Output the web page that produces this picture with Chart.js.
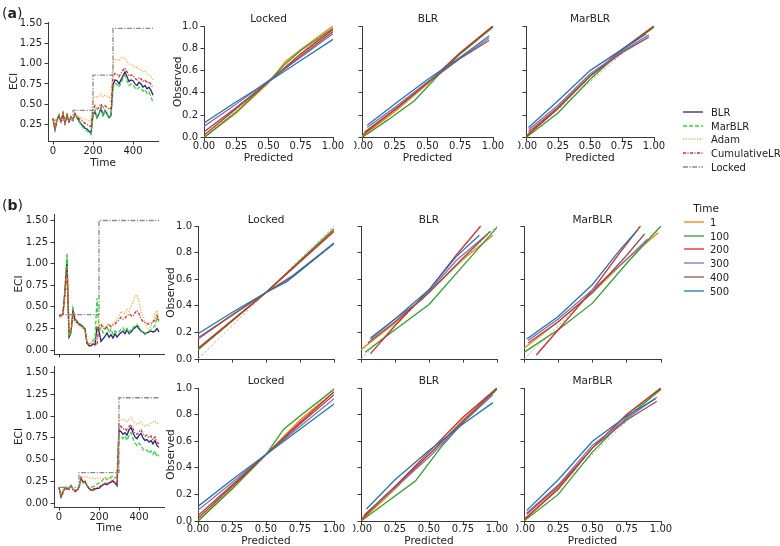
<!DOCTYPE html>
<html><head><meta charset="utf-8">
<script src="https://cdn.jsdelivr.net/npm/chart.js@4.4.1/dist/chart.umd.min.js"></script>
<style>
body{margin:0;background:#fff;width:780px;height:546px;position:relative;overflow:hidden;font-family:"DejaVu Sans",sans-serif;color:#222}
canvas{position:absolute}
.t{position:absolute;font-size:10.5px;white-space:nowrap;transform:translate(-50%,-50%)}
.lg{position:absolute;font-size:10px;white-space:nowrap;transform:translateY(-50%)}
.pl{position:absolute;font-size:14px;white-space:nowrap;transform:translateY(-50%)}
</style></head><body>
<script>
// ---------------- DATA ----------------
const timeGrid = [0,10,20,30,40,50,60,70,80,90,100,110,120,130,140,150,160,170,180,190,200,210,220,230,240,250,260,270,280,290,300,310,320,330,340,350,360,370,380,390,400,410,420,430,440,450,460,470,480,490,500];
const methods = ['BLR','MarBLR','Adam','CumulativeLR','Locked'];
const calTimes = ['1','100','200','300','400','500'];

// Panel (a) ECI
const eciA_BLR    = [0.32,0.18,0.30,0.36,0.28,0.38,0.26,0.36,0.28,0.34, 0.30,0.38,0.33,0.29,0.25,0.23,0.20,0.19,0.16,0.14, 0.36,0.41,0.33,0.38,0.45,0.36,0.42,0.38,0.33,0.36, 0.74,0.80,0.79,0.75,0.80,0.85,0.90,0.84,0.78,0.80, 0.79,0.75,0.73,0.77,0.75,0.71,0.73,0.69,0.71,0.67,0.61];
const eciA_MarBLR = [0.32,0.18,0.31,0.37,0.28,0.39,0.26,0.37,0.28,0.35, 0.30,0.38,0.32,0.28,0.24,0.21,0.18,0.17,0.14,0.12, 0.36,0.42,0.33,0.37,0.45,0.35,0.41,0.37,0.32,0.35, 0.70,0.76,0.74,0.71,0.76,0.82,0.86,0.79,0.73,0.75, 0.74,0.70,0.68,0.71,0.69,0.66,0.68,0.63,0.65,0.59,0.52];
const eciA_Adam   = [0.32,0.20,0.30,0.35,0.29,0.37,0.27,0.35,0.29,0.33, 0.31,0.37,0.35,0.34,0.33,0.32,0.31,0.30,0.29,0.28, 0.58,0.60,0.58,0.60,0.62,0.59,0.61,0.60,0.58,0.60, 1.02,1.05,1.06,1.04,1.07,1.08,1.07,1.03,1.00,0.99, 0.98,0.95,0.96,0.93,0.92,0.90,0.91,0.87,0.86,0.84,0.80];
const eciA_CumLR  = [0.32,0.19,0.30,0.36,0.28,0.38,0.27,0.36,0.28,0.34, 0.30,0.38,0.35,0.32,0.30,0.28,0.26,0.25,0.23,0.22, 0.44,0.48,0.43,0.46,0.50,0.45,0.48,0.46,0.43,0.45, 0.85,0.88,0.87,0.84,0.88,0.92,0.95,0.90,0.85,0.86, 0.86,0.82,0.80,0.83,0.81,0.78,0.80,0.76,0.78,0.74,0.70];
const eciA_LockedT = [0,100,100,200,200,300,300,500];
const eciA_Locked  = [0.30,0.30,0.42,0.42,0.86,0.86,1.44,1.44];

// Panel (b) top ECI
const eciB1_BLR    = [0.40,0.40,0.42,0.70,1.05,0.15,0.20,0.46,0.36,0.33, 0.30,0.29,0.27,0.24,0.08,0.05,0.05,0.07,0.06,0.26, 0.22,0.10,0.13,0.16,0.20,0.15,0.18,0.14,0.19,0.15, 0.18,0.20,0.22,0.19,0.24,0.19,0.21,0.24,0.26,0.28, 0.25,0.22,0.21,0.19,0.20,0.21,0.22,0.21,0.22,0.25,0.21];
const eciB1_MarBLR = [0.40,0.40,0.42,0.72,1.12,0.16,0.22,0.48,0.36,0.34, 0.31,0.30,0.28,0.25,0.08,0.07,0.09,0.11,0.14,0.60, 0.22,0.26,0.20,0.24,0.28,0.20,0.24,0.18,0.22,0.20, 0.21,0.24,0.26,0.22,0.25,0.20,0.24,0.26,0.28,0.30, 0.27,0.23,0.20,0.18,0.20,0.22,0.24,0.26,0.28,0.38,0.33];
const eciB1_Adam   = [0.38,0.37,0.40,0.60,0.85,0.22,0.20,0.38,0.33,0.30, 0.29,0.27,0.25,0.22,0.10,0.08,0.08,0.09,0.12,0.15, 0.35,0.30,0.28,0.25,0.28,0.30,0.28,0.32,0.33,0.36, 0.40,0.45,0.43,0.42,0.47,0.45,0.50,0.55,0.62,0.64, 0.56,0.45,0.38,0.32,0.26,0.23,0.28,0.32,0.42,0.46,0.35];
const eciB1_CumLR  = [0.40,0.40,0.42,0.65,0.95,0.20,0.22,0.42,0.34,0.31, 0.30,0.28,0.26,0.24,0.08,0.06,0.06,0.07,0.07,0.06, 0.28,0.30,0.26,0.24,0.28,0.30,0.27,0.29,0.30,0.33, 0.35,0.38,0.36,0.37,0.40,0.42,0.40,0.39,0.43,0.46, 0.42,0.36,0.33,0.32,0.31,0.30,0.31,0.33,0.35,0.40,0.33];
const eciB1_LockedT = [0,200,200,500];
const eciB1_Locked  = [0.41,0.41,1.50,1.50];

// Panel (b) bottom ECI
const eciB2_BLR    = [0.18,0.07,0.13,0.18,0.17,0.16,0.20,0.16,0.14,0.15, 0.18,0.29,0.24,0.25,0.20,0.17,0.15,0.15,0.16,0.17, 0.17,0.19,0.21,0.22,0.21,0.23,0.24,0.25,0.23,0.20, 0.84,0.82,0.79,0.81,0.78,0.84,0.87,0.81,0.76,0.74, 0.78,0.80,0.75,0.72,0.73,0.70,0.72,0.68,0.72,0.66,0.64];
const eciB2_MarBLR = [0.18,0.08,0.14,0.18,0.18,0.17,0.20,0.16,0.15,0.16, 0.18,0.27,0.23,0.24,0.20,0.18,0.18,0.19,0.20,0.22, 0.23,0.24,0.27,0.30,0.27,0.28,0.30,0.31,0.29,0.30, 0.78,0.77,0.74,0.77,0.72,0.78,0.81,0.74,0.69,0.66, 0.69,0.66,0.62,0.60,0.61,0.57,0.60,0.56,0.60,0.53,0.55];
const eciB2_Adam   = [0.18,0.10,0.14,0.18,0.17,0.16,0.19,0.16,0.15,0.16, 0.18,0.31,0.30,0.30,0.30,0.29,0.29,0.28,0.28,0.28, 0.29,0.29,0.28,0.28,0.29,0.28,0.28,0.27,0.27,0.27, 0.97,0.96,0.95,0.96,0.94,0.96,0.98,0.95,0.92,0.90, 0.92,0.93,0.90,0.88,0.90,0.89,0.92,0.93,0.94,0.92,0.91];
const eciB2_CumLR  = [0.18,0.06,0.12,0.17,0.16,0.15,0.19,0.15,0.13,0.14, 0.17,0.28,0.24,0.25,0.20,0.17,0.15,0.16,0.17,0.18, 0.18,0.20,0.22,0.23,0.22,0.24,0.25,0.26,0.24,0.21, 0.90,0.88,0.85,0.86,0.83,0.88,0.90,0.85,0.80,0.79, 0.82,0.84,0.80,0.77,0.78,0.75,0.77,0.73,0.76,0.70,0.68];
const eciB2_LockedT = [0,100,100,300,300,500];
const eciB2_Locked  = [0.18,0.18,0.35,0.35,1.21,1.21];

// Calibration curves: per panel, one list of [predicted, observed] per time (1,100,200,300,400,500)
const calA_Locked = [
 [[0,0],[0.25,0.22],[0.5,0.49],[0.63,0.68],[0.75,0.79],[1,1.0]],
 [[0,0],[0.25,0.23],[0.5,0.5],[0.63,0.66],[0.75,0.78],[1,0.98]],
 [[0,0.02],[0.25,0.26],[0.5,0.5],[0.75,0.75],[1,0.97]],
 [[0,0.10],[0.25,0.30],[0.5,0.51],[0.75,0.72],[1,0.93]],
 [[0,0.05],[0.25,0.27],[0.5,0.5],[0.75,0.73],[1,0.95]],
 [[0,0.13],[0.25,0.32],[0.5,0.5],[0.75,0.69],[1,0.88]]];
const calA_BLR = [
 [[0,0.01],[0.25,0.23],[0.5,0.48],[0.75,0.76],[1,1.0]],
 [[0,0],[0.2,0.16],[0.4,0.33],[0.6,0.58],[0.75,0.75],[1,0.99]],
 [[0,0.02],[0.25,0.25],[0.5,0.49],[0.75,0.76],[1,1.0]],
 [[0.04,0.09],[0.25,0.27],[0.5,0.5],[0.75,0.71],[0.97,0.89]],
 [[0.02,0.05],[0.25,0.25],[0.5,0.49],[0.75,0.71],[0.97,0.87]],
 [[0.04,0.11],[0.25,0.30],[0.5,0.52],[0.75,0.72],[0.97,0.91]]];
const calA_MarBLR = [
 [[0,0.01],[0.25,0.27],[0.5,0.55],[0.75,0.79],[1,1.0]],
 [[0,0],[0.25,0.22],[0.5,0.52],[0.75,0.78],[1,0.99]],
 [[0,0.01],[0.25,0.26],[0.5,0.55],[0.75,0.79],[1,1.0]],
 [[0.02,0.07],[0.25,0.29],[0.5,0.57],[0.75,0.77],[0.96,0.92]],
 [[0.02,0.05],[0.25,0.27],[0.5,0.55],[0.75,0.76],[0.96,0.90]],
 [[0.02,0.09],[0.25,0.33],[0.5,0.6],[0.75,0.79],[0.94,0.93]]];
const calB1_Locked = [
 [[0,0.07],[0.5,0.5],[1,0.97]],
 [[0,0.07],[0.5,0.5],[1,0.98]],
 [[0,0.08],[0.5,0.5],[1,0.96]],
 [[0,0.16],[0.25,0.33],[0.5,0.5],[0.7,0.62],[1,0.87]],
 [[0,0.15],[0.25,0.33],[0.5,0.5],[0.7,0.63],[1,0.87]],
 [[0,0.19],[0.25,0.35],[0.5,0.5],[0.65,0.58],[1,0.87]]];
const calB1_BLR = [
 [[0,0.07],[0.25,0.27],[0.5,0.5],[0.75,0.75],[0.97,0.93]],
 [[0.03,0.05],[0.25,0.22],[0.5,0.41],[0.75,0.7],[1.0,0.99]],
 [[0.07,0.04],[0.25,0.25],[0.5,0.52],[0.7,0.78],[0.88,1.0]],
 [[0.07,0.16],[0.25,0.3],[0.45,0.45],[0.7,0.74],[0.92,0.93]],
 [[0.05,0.12],[0.25,0.28],[0.5,0.5],[0.75,0.76],[0.95,0.96]],
 [[0.07,0.15],[0.25,0.3],[0.5,0.52],[0.7,0.77],[0.87,0.93]]];
const calB1_MarBLR = [
 [[0,0.08],[0.25,0.28],[0.5,0.5],[0.75,0.75],[0.98,0.95]],
 [[0,0.05],[0.25,0.22],[0.5,0.42],[0.75,0.72],[1.0,1.0]],
 [[0.09,0.03],[0.25,0.22],[0.5,0.52],[0.7,0.8],[0.85,1.0]],
 [[0.03,0.14],[0.25,0.3],[0.5,0.52],[0.75,0.75],[0.9,0.9]],
 [[0.03,0.12],[0.25,0.28],[0.5,0.5],[0.75,0.78],[0.88,0.94]],
 [[0.02,0.15],[0.25,0.32],[0.5,0.56],[0.7,0.82],[0.82,0.96]]];
const calB2_Locked = [
 [[0,0.0],[0.25,0.24],[0.5,0.5],[0.75,0.76],[1,0.97]],
 [[0,0.0],[0.25,0.24],[0.5,0.5],[0.63,0.69],[0.75,0.79],[1,0.99]],
 [[0,0.02],[0.25,0.26],[0.5,0.5],[0.75,0.74],[1,0.97]],
 [[0,0.08],[0.25,0.29],[0.5,0.5],[0.75,0.71],[1,0.92]],
 [[0,0.04],[0.25,0.27],[0.5,0.5],[0.75,0.73],[1,0.95]],
 [[0,0.11],[0.25,0.31],[0.5,0.5],[0.75,0.69],[1,0.88]]];
const calB2_BLR = [
 [[0,0.0],[0.25,0.24],[0.5,0.5],[0.75,0.76],[1,1.0]],
 [[0,0.0],[0.2,0.15],[0.4,0.3],[0.6,0.57],[0.75,0.74],[1,0.99]],
 [[0,0.01],[0.25,0.26],[0.5,0.52],[0.75,0.78],[1,1.0]],
 [[0.03,0.05],[0.25,0.25],[0.5,0.48],[0.75,0.74],[0.97,0.95]],
 [[0.02,0.04],[0.25,0.26],[0.5,0.5],[0.75,0.75],[0.98,0.98]],
 [[0.04,0.09],[0.25,0.31],[0.5,0.53],[0.75,0.73],[0.97,0.89]]];
const calB2_MarBLR = [
 [[0,0.01],[0.25,0.24],[0.5,0.55],[0.75,0.8],[1,1.0]],
 [[0,0.0],[0.25,0.2],[0.5,0.52],[0.75,0.78],[1,0.99]],
 [[0,0.01],[0.25,0.24],[0.5,0.55],[0.75,0.8],[1,1.0]],
 [[0.02,0.06],[0.25,0.27],[0.5,0.57],[0.75,0.77],[0.97,0.93]],
 [[0.02,0.05],[0.25,0.26],[0.5,0.55],[0.75,0.76],[0.97,0.9]],
 [[0.02,0.08],[0.25,0.31],[0.5,0.6],[0.75,0.79],[0.96,0.92]]];
const diagonal = [[0,0],[1,1]];
const eciTicksA = [0.25,0.50,0.75,1.00,1.25,1.50];
const eciTicksB = [0,0.25,0.50,0.75,1.00,1.25,1.50];
const timeTicks = [0,200,400];
const predTicks = [0,0.25,0.5,0.75,1];
const obsTicks = [0,0.2,0.4,0.6,0.8,1.0];

// ---------------- STYLE ----------------
const FONT = "'DejaVu Sans', sans-serif";
const TXT = '#222', AX = '#3a3a3a';
const methodStyle = {
  BLR:{color:'#24277a', dash:[]},
  MarBLR:{color:'#33d633', dash:[4,2]},
  Adam:{color:'#f5ad3c', dash:[1.2,1.6]},
  CumulativeLR:{color:'#e3262a', dash:[3,1.5,1,1.5]},
  Locked:{color:'#8a8a8a', dash:[5,1.5,1.2,1.5]}
};
const timeColors = ['#ff7f0e','#2ca02c','#d62728','#9467bd','#8c564b','#1f77b4'];

function toXY(ts, vs){ return vs.map((v,i)=>({x:ts[i], y:v})); }
function pairs(arr){ return arr.map(p=>({x:p[0], y:p[1]})); }

function eciSets(b, m, a, c, lt, l){
  const series = [['BLR',timeGrid,b],['MarBLR',timeGrid,m],['Adam',timeGrid,a],['CumulativeLR',timeGrid,c],['Locked',lt,l]];
  return series.map((s,i)=>({label:s[0], data:toXY(s[1],s[2]), borderColor:methodStyle[s[0]].color,
    borderDash:methodStyle[s[0]].dash, borderWidth:1.3, pointRadius:0, fill:false, order:10-i}));
}
function calSets(cal){
  const ds = cal.map((c,i)=>({label:calTimes[i], data:pairs(c), borderColor:timeColors[i], borderWidth:1.3,
    pointRadius:0, fill:false, order:10-i}));
  ds.push({label:'ref', data:pairs(diagonal), borderColor:'#9a9a9a', borderDash:[2.5,2], borderWidth:0.8, pointRadius:0, order:20});
  return ds;
}

function axis(o, size, isX){
  return {
    type:'linear', min:o.min, max:o.max,
    grid:{display:true, drawOnChartArea:false, drawTicks:true, tickLength:3.5, color:AX, lineWidth:1},
    border:{display:true, color:AX, width:1},
    ticks:{display:true, autoSkip:false, maxRotation:0, minRotation:0, padding:o.tpad, color:TXT,
      font:{family:FONT, size:10, lineHeight:1}, callback:o.fmt},
    title:{display:!!o.title, text:o.title||'', color:TXT, font:{family:FONT, size:10.5, lineHeight:1.2},
      padding: isX ? {top:0,bottom:o.titlePad||0} : {top:o.titlePad||0,bottom:0}},
    afterBuildTicks:s=>{ s.ticks = o.ticks.map(v=>({value:v})); },
    afterFit:s=>{ if(isX){ s.height=size; } else { s.width=size; }
      s.paddingLeft=0; s.paddingRight=0; s.paddingTop=0; s.paddingBottom=0; }
  };
}

function makePanel(cfg){
  const {area, ML, MT, MR, MB} = cfg;
  const c = document.createElement('canvas');
  const w = Math.round(ML + (area.r-area.l) + MR), h = Math.round(MT + (area.b-area.t) + MB);
  c.width = w; c.height = h;
  c.style.left = (area.l-ML)+'px'; c.style.top = (area.t-MT)+'px';
  c.style.width = w+'px'; c.style.height = h+'px';
  document.body.appendChild(c);
  new Chart(c, {
    type:'line',
    data:{datasets:cfg.datasets},
    options:{
      responsive:false, animation:false, devicePixelRatio:1,
      layout:{padding:{left:0, top:MT, right:MR, bottom:0}},
      plugins:{legend:{display:false}, tooltip:{enabled:false}, title:{display:false}},
      elements:{point:{radius:0}, line:{tension:0, borderCapStyle:'butt'}},
      scales:{ x:axis(cfg.x, MB, true), y:axis(cfg.y, ML, false) }
    }
  });
}

function text(cls, x, y, html){
  const d = document.createElement('div'); d.className = cls; d.style.left = x+'px'; d.style.top = y+'px';
  d.innerHTML = html; document.body.appendChild(d);
}
function legendEntry(x0, x1, tx, y, label, color, dash){
  const c = document.createElement('canvas');
  c.width = x1-x0+2; c.height = 6; c.style.left = (x0-1)+'px'; c.style.top = (y-3)+'px';
  document.body.appendChild(c);
  const g = c.getContext('2d'); g.strokeStyle = color; g.lineWidth = 1.3; g.setLineDash(dash);
  g.beginPath(); g.moveTo(1,3); g.lineTo(x1-x0+1,3); g.stroke();
  text('lg', tx, y, label);
}

const fmtT = v=>String(v), fmt2 = v=>v.toFixed(2), fmt1 = v=>v.toFixed(1), none = ()=>'';

// ---------- Row (a) ----------
makePanel({area:{l:48,t:22,r:158,b:141}, ML:48, MT:10, MR:14, MB:30,
  datasets:eciSets(eciA_BLR,eciA_MarBLR,eciA_Adam,eciA_CumLR,eciA_LockedT,eciA_Locked),
  x:{min:-25,max:525,ticks:timeTicks,fmt:fmtT,tpad:2,title:'Time',titlePad:1},
  y:{min:0.04,max:1.52,ticks:eciTicksA,fmt:fmt2,tpad:2.5,title:'ECI',titlePad:8}});
const calRowA = [[calA_Locked,204,333,true],[calA_BLR,362,493,false],[calA_MarBLR,526,654,false]];
calRowA.forEach(r=>makePanel({area:{l:r[1],t:26,r:r[2],b:137}, ML:r[3]?34:8, MT:6, MR:14, MB:27.5,
  datasets:calSets(r[0]),
  x:{min:0,max:1,ticks:predTicks,fmt:fmt2,tpad:0.5,title:'Predicted',titlePad:0},
  y:{min:0,max:1,ticks:obsTicks,fmt:r[3]?fmt1:none,tpad:2.5,title:r[3]?'Observed':'',titlePad:2}}));

// ---------- Row (b) top ----------
makePanel({area:{l:54,t:213.5,r:164,b:353}, ML:54, MT:6, MR:6, MB:8,
  datasets:eciSets(eciB1_BLR,eciB1_MarBLR,eciB1_Adam,eciB1_CumLR,eciB1_LockedT,eciB1_Locked),
  x:{min:-25,max:525,ticks:timeTicks,fmt:none,tpad:0},
  y:{min:-0.045,max:1.575,ticks:eciTicksB,fmt:fmt2,tpad:2.5,title:'ECI',titlePad:13}});
const calRowB1 = [[calB1_Locked,198,334,true],[calB1_BLR,361,497,false],[calB1_MarBLR,524,661,false]];
calRowB1.forEach(r=>makePanel({area:{l:r[1],t:226,r:r[2],b:359}, ML:r[3]?35:8, MT:6, MR:6, MB:8,
  datasets:calSets(r[0]),
  x:{min:0,max:1,ticks:predTicks,fmt:none,tpad:0},
  y:{min:0,max:1,ticks:obsTicks,fmt:r[3]?fmt1:none,tpad:2.5,title:r[3]?'Observed':'',titlePad:2}}));

// ---------- Row (b) bottom ----------
makePanel({area:{l:54,t:366.4,r:164,b:507}, ML:54, MT:8, MR:14, MB:31,
  datasets:eciSets(eciB2_BLR,eciB2_MarBLR,eciB2_Adam,eciB2_CumLR,eciB2_LockedT,eciB2_Locked),
  x:{min:-25,max:525,ticks:timeTicks,fmt:fmtT,tpad:1.7,title:'Time',titlePad:3},
  y:{min:-0.045,max:1.575,ticks:eciTicksB,fmt:fmt2,tpad:2.5,title:'ECI',titlePad:13}});
const calRowB2 = [[calB2_Locked,198,334,true],[calB2_BLR,361,497,false],[calB2_MarBLR,524,661,false]];
calRowB2.forEach(r=>makePanel({area:{l:r[1],t:388,r:r[2],b:521}, ML:r[3]?35:8, MT:6, MR:14, MB:27,
  datasets:calSets(r[0]),
  x:{min:0,max:1,ticks:predTicks,fmt:fmt2,tpad:-0.5,title:'Predicted',titlePad:0},
  y:{min:0,max:1,ticks:obsTicks,fmt:r[3]?fmt1:none,tpad:2.5,title:r[3]?'Observed':'',titlePad:2}}));

// ---------- Titles, labels, legends ----------
text('pl', 2, 12.5, '(<b>a</b>)');
text('pl', 2, 205, '(<b>b</b>)');
[['Locked',268.5],['BLR',428],['MarBLR',590]].forEach(t=>text('t', t[1], 18.3, t[0]));
[['Locked',266],['BLR',429],['MarBLR',592.5]].forEach(t=>text('t', t[1], 219.3, t[0]));
[['Locked',266],['BLR',429],['MarBLR',592.5]].forEach(t=>text('t', t[1], 380, t[0]));

const legendAY = [111.7,125.7,139.3,153.3,166.7];
methods.forEach((m,i)=>legendEntry(683,703,711,legendAY[i],m,methodStyle[m].color,methodStyle[m].dash));
text('t', 706, 208.3, 'Time');
const legendBY = [222.3,235.7,249.3,263.3,277,290.7];
calTimes.forEach((t,i)=>legendEntry(684,704,710,legendBY[i],t,timeColors[i],[]));
</script>
</body></html>
